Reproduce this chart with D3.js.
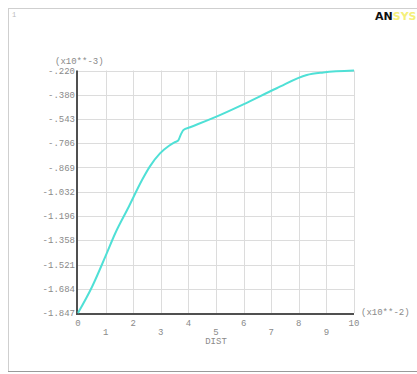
<!DOCTYPE html>
<html><head><meta charset="utf-8">
<script src="https://cdn.jsdelivr.net/npm/d3@7"></script>
<style>body{margin:0;background:#fff;}svg{display:block;}</style>
</head><body>
<script>
const distX = [0, 0.51, 0.99, 1.35, 1.84, 2.32, 2.6, 2.97, 3.3, 3.51, 3.63, 3.72, 3.82, 4.06, 5.14, 5.99, 7.2, 8.29, 8.89, 10];
const valY = [-1.847, -1.671, -1.469, -1.312, -1.134, -0.955, -0.865, -0.776, -0.725, -0.701, -0.690, -0.652, -0.619, -0.601, -0.519, -0.447, -0.339, -0.250, -0.233, -0.220];
const xTicks = [0,1,2,3,4,5,6,7,8,9,10];
const yTickLabels = ["-1.847","-1.684","-1.521","-1.358","-1.196","-1.032","-.869","-.706","-.543","-.380","-.220"];
const yMin = -1.847, yMax = -0.220;

const W = 417, H = 374;
const svg = d3.select("body").append("svg").attr("width", W).attr("height", H);
const x = d3.scaleLinear().domain([0, 10]).range([78, 354]);
const y = d3.scaleLinear().domain([yMin, yMax]).range([313, 70.5]);
const yTickVals = yTickLabels.map((_, i) => yMin + i * (yMax - yMin) / 10);
const font = "'Liberation Mono', 'DejaVu Sans Mono', monospace";
const txt = "#8a8a8a";

// frame
svg.append("line").attr("x1",8).attr("x2",417).attr("y1",8.5).attr("y2",8.5).attr("stroke","#cfcfcf");
svg.append("line").attr("x1",8.5).attr("x2",8.5).attr("y1",8).attr("y2",372).attr("stroke","#cfcfcf");
svg.append("line").attr("x1",8).attr("x2",417).attr("y1",371.5).attr("y2",371.5).attr("stroke","#9a9a9a");
svg.append("text").attr("x",12).attr("y",17).attr("font-size",7).attr("fill","#bbb").attr("font-family",font).text("1");

// logo
const logo = svg.append("text").attr("x",375).attr("y",20).attr("font-size",11).attr("font-weight","bold").attr("font-family","'DejaVu Sans', sans-serif");
logo.append("tspan").attr("fill","#111").text("AN");
logo.append("tspan").attr("fill","#f5f07a").text("SYS");

// grid
svg.append("g").selectAll("line").data(xTicks.slice(1)).join("line")
  .attr("x1", d => Math.round(x(d))+0.5).attr("x2", d => Math.round(x(d))+0.5)
  .attr("y1", y(yMax)).attr("y2", y(yMin)).attr("stroke","#dcdcdc").attr("stroke-width",1);
svg.append("g").selectAll("line").data(yTickVals.slice(1)).join("line")
  .attr("x1", x(0)).attr("x2", x(10))
  .attr("y1", d => Math.round(y(d))+0.5).attr("y2", d => Math.round(y(d))+0.5)
  .attr("stroke","#dcdcdc").attr("stroke-width",1);

// y tick labels
svg.append("g").selectAll("text").data(yTickVals).join("text")
  .attr("x", 75).attr("y", d => y(d)+3).attr("text-anchor","end")
  .attr("font-size",9).attr("font-family",font).attr("fill",txt)
  .text((d,i) => yTickLabels[i]);
svg.append("text").attr("x",55).attr("y",64).attr("font-size",9).attr("font-family",font).attr("fill",txt).text("(x10**-3)");

// x tick labels
svg.append("g").selectAll("text").data(xTicks).join("text")
  .attr("x", d => x(d)).attr("y", d => d % 2 === 0 ? 326 : 335).attr("text-anchor","middle")
  .attr("font-size",9).attr("font-family",font).attr("fill",txt).text(d => d);
svg.append("text").attr("x",216).attr("y",344).attr("text-anchor","middle").attr("font-size",9).attr("font-family",font).attr("fill",txt).text("DIST");
svg.append("text").attr("x",361).attr("y",315).attr("font-size",9).attr("font-family",font).attr("fill",txt).text("(x10**-2)");

// axes
svg.append("line").attr("x1",x(0)-1).attr("x2",x(0)-1).attr("y1",y(yMax)).attr("y2",y(yMin)+1).attr("stroke","#505050").attr("stroke-width",2);
svg.append("line").attr("x1",x(0)-2).attr("x2",x(10)).attr("y1",y(yMin)+1).attr("y2",y(yMin)+1).attr("stroke","#505050").attr("stroke-width",2);

// curve
const line = d3.line().x(d => x(d[0])).y(d => y(d[1])).curve(d3.curveMonotoneX);
svg.append("path").datum(distX.map((d,i) => [d, valY[i]]))
  .attr("d", line).attr("fill","none").attr("stroke","#4fe0d6").attr("stroke-width",2).attr("stroke-linejoin","round");
</script>
</body></html>
